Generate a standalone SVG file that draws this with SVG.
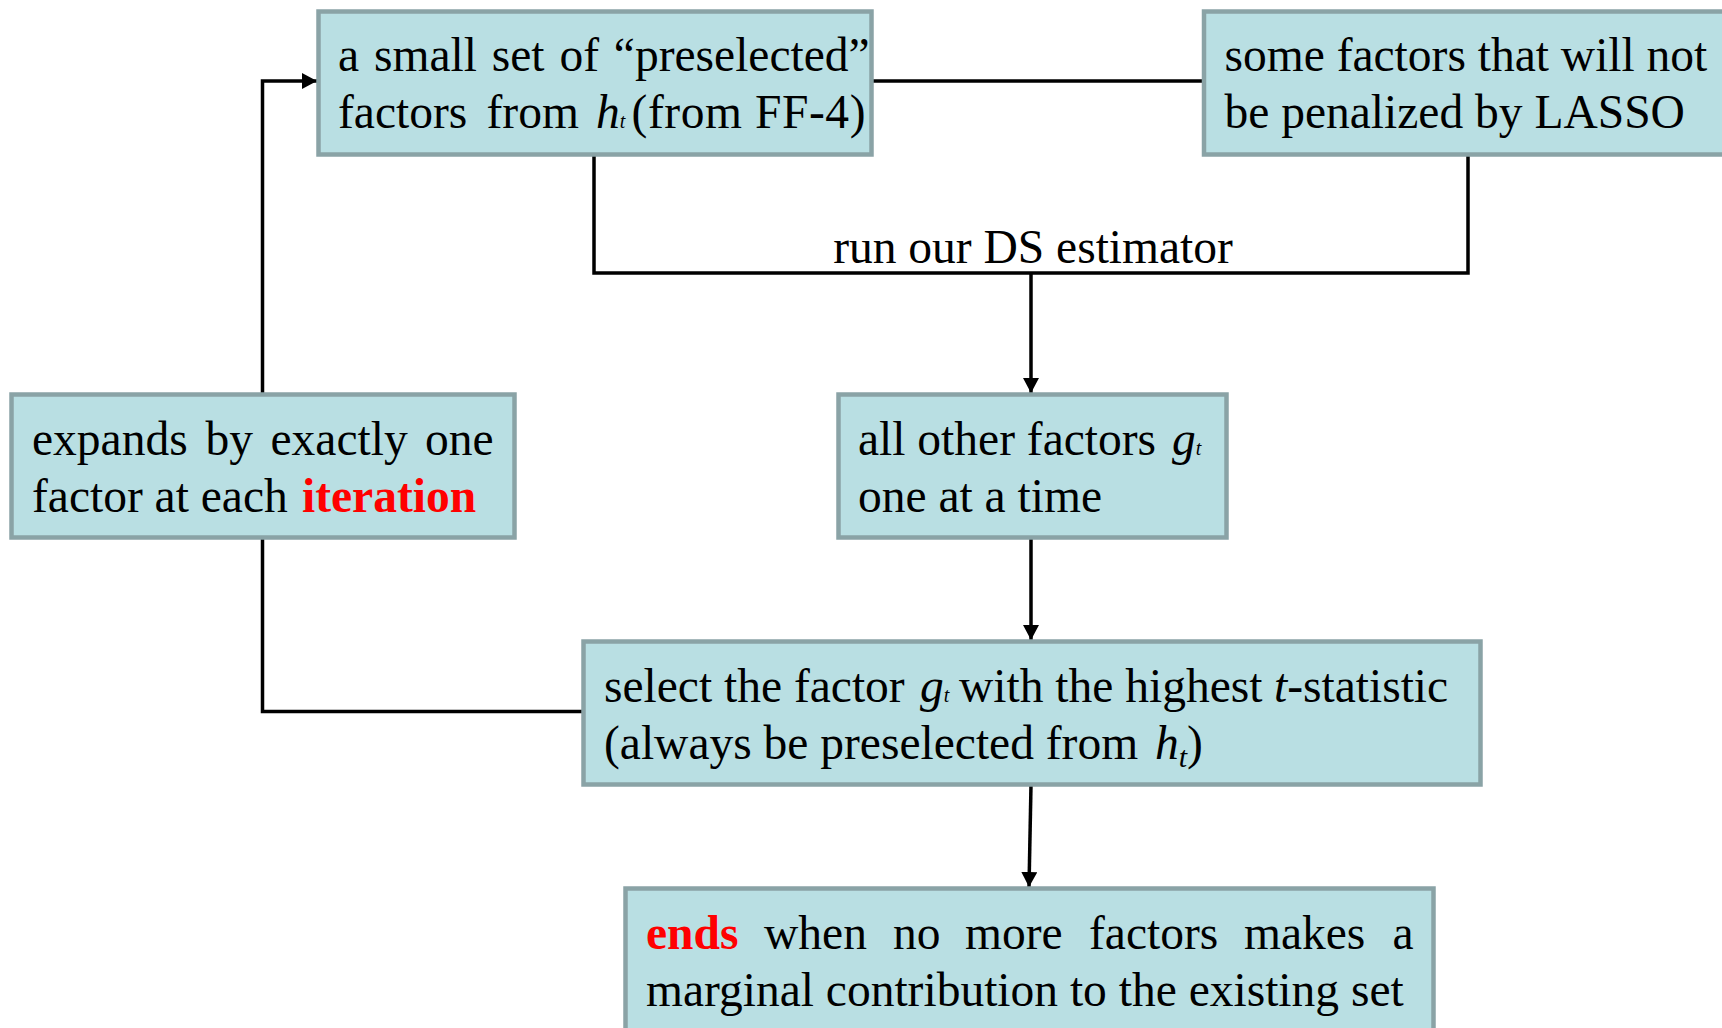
<svg xmlns="http://www.w3.org/2000/svg" width="1722" height="1028" viewBox="0 0 1722 1028">
<style>
.box{fill:#b9dfe3;stroke:#8aa3a6;stroke-width:4.5}
.t{font-family:"Liberation Serif","Times New Roman",serif;font-size:47.5px;fill:#000}
.i{font-style:italic}
.sub{font-size:20px}
.red{fill:#ff0000;font-weight:bold}
.ln{fill:none;stroke:#000;stroke-width:3.5}
</style>
<defs>
<marker id="ahv" markerWidth="15" markerHeight="16" refX="15" refY="8" orient="auto" markerUnits="userSpaceOnUse" viewBox="0 0 15 16">
<path d="M0,0 L15,8 L0,16 Z" fill="#000"/>
</marker>
</defs>
<rect width="1722" height="1028" fill="#fff"/>
<g id="connectors">
<path class="ln" d="M872,81 H1204"/>
<path class="ln" d="M594,155 V273 H1468 V155"/>
<path class="ln" d="M1031,273 V393" marker-end="url(#ahv)"/>
<path class="ln" d="M262.5,394 V81 H317" marker-end="url(#ahv)"/>
<path class="ln" d="M583,711.5 H262.5 V538"/>
<path class="ln" d="M1031,538 V640" marker-end="url(#ahv)"/>
<path class="ln" d="M1031,785 L1029,887" marker-end="url(#ahv)"/>
<text class="t" x="1033" y="263" text-anchor="middle">run our DS estimator</text>
</g>
<g id="node-preselected">
<rect class="box" x="318.5" y="11.5" width="553" height="143"/>
<text class="t" x="338" y="71" word-spacing="3">a small set of “preselected”</text>
<text class="t" y="128"><tspan x="338">factors</tspan><tspan x="486.5">from</tspan><tspan x="596" class="i">h</tspan><tspan class="i sub">t</tspan><tspan x="631.5" textLength="234" lengthAdjust="spacing">(from FF-4)</tspan></text>
</g>
<g id="node-unpenalized">
<rect class="box" x="1204" y="11.5" width="560" height="143"/>
<text class="t" x="1224.5" y="71">some factors that will not</text>
<text class="t" x="1224.5" y="128">be penalized by LASSO</text>
</g>
<g id="node-expands">
<rect class="box" x="11.5" y="394.5" width="503" height="143"/>
<text class="t" y="455"><tspan x="32">expands</tspan><tspan x="205.5">by</tspan><tspan x="270.5">exactly</tspan><tspan x="425">one</tspan></text>
<text class="t" y="512"><tspan x="32">factor at each </tspan><tspan x="302" class="red">iteration</tspan></text>
</g>
<g id="node-other">
<rect class="box" x="838.5" y="394.5" width="388" height="143"/>
<text class="t" x="858" y="455">all other factors <tspan class="i" x="1172">g</tspan><tspan class="i sub">t</tspan></text>
<text class="t" x="858" y="512">one at a time</text>
</g>
<g id="node-select">
<rect class="box" x="583.5" y="641.5" width="897" height="143"/>
<text class="t" y="702"><tspan x="604">select the factor </tspan><tspan x="920" class="i">g</tspan><tspan class="i sub">t</tspan><tspan x="959">with the highest </tspan><tspan x="1274" class="i">t</tspan><tspan>-statistic</tspan></text>
<text class="t" y="759"><tspan x="604">(always be preselected from </tspan><tspan x="1155" class="i">h</tspan><tspan class="i" font-size="30" dy="8">t</tspan><tspan dy="-8">)</tspan></text>
</g>
<g id="node-ends">
<rect class="box" x="625.5" y="888.5" width="808" height="160"/>
<text class="t" y="949"><tspan x="646" class="red">ends</tspan><tspan x="764">when</tspan><tspan x="893">no</tspan><tspan x="965">more</tspan><tspan x="1089">factors</tspan><tspan x="1244">makes</tspan><tspan x="1392.5">a</tspan></text>
<text class="t" x="646" y="1006">marginal contribution to the existing set</text>
</g>
</svg>
